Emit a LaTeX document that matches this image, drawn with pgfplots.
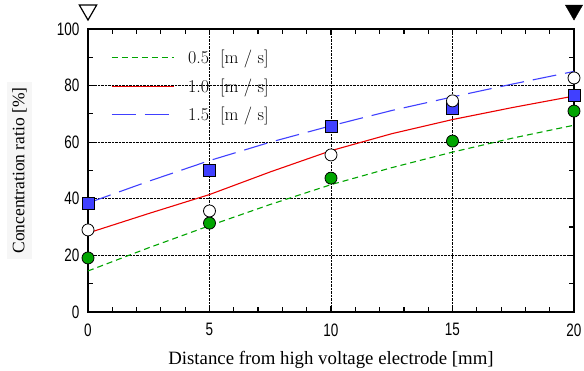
\documentclass[border=0pt]{standalone}
\usepackage{pgfplots}
\pgfplotsset{compat=1.18}
\usepackage{fontspec}
\setmainfont{Liberation Serif}
\newfontfamily\tickfont[FakeStretch=0.75]{Liberation Sans}
\newfontfamily\lmfont{Latin Modern Roman}
\definecolor{cgreen}{RGB}{0,165,0}
\definecolor{cred}{RGB}{235,0,0}
\definecolor{cblue}{RGB}{64,64,255}
\begin{document}
\begin{tikzpicture}
\begin{axis}[
  name=ax,
  scale only axis, width=486pt, height=283pt,
  xmin=0, xmax=20, ymin=0, ymax=100,
  xtick={0,5,10,15,20}, ytick={0,20,40,60,80,100},
  minor x tick num=4, minor ytick={10,30,50,70,90},
  tick align=inside, ticks=both,
  major tick length=6pt, minor tick length=5pt,
  tick style={black, line width=1.2pt},
  axis line style={line width=1.2pt},
  grid=major,
  major grid style={black, densely dotted, line width=0.9pt},
  clip=false,
  ticklabel style={font=\tickfont\fontsize{18}{20}\selectfont},
  /pgf/number format/assume math mode=true,
  xticklabel style={yshift=-8pt},
  yticklabel style={xshift=-5pt},
  xlabel={Distance from high voltage electrode [mm]},
  xlabel style={font=\fontsize{18.8}{21}\selectfont, yshift=-8pt},
  ylabel={Concentration ratio [\%]},
  ylabel style={font=\fontsize{17.5}{19}\selectfont, fill=gray!7, inner sep=5pt,
    at={(axis description cs:-0.141,0.5)}, anchor=center},
  legend style={at={(axis description cs:0.041,0.94)}, anchor=north west, draw=none, fill=none,
    font=\lmfont\fontsize{18}{21}\selectfont, row sep=9.5pt,
    nodes={inner xsep=14pt}},
  legend cell align=left,
  legend image code/.code={\draw[#1] (0pt,0pt) -- (62pt,0pt);},
]
% fitted lines
\addplot[cgreen, dash pattern=on 6pt off 4pt, line width=1.1pt] coordinates {(0,14.5) (2.5,22.7) (5,30.5) (7.5,38) (10,45) (12.5,51) (15,56.5) (17.5,61.5) (20,66)};
\addlegendentry{0.5\ \ [m\ /\ s]}
\addplot[cred, line width=1.1pt] coordinates {(0,27.9) (2.5,34.8) (5,41.5) (7.5,49.5) (10,57) (12.5,63) (15,68) (17.5,72.3) (20,76.3)};
\addlegendentry{1.0\ \ [m\ /\ s]}
\addplot[cblue, dash pattern=on 24pt off 9pt, line width=1.1pt] coordinates {(0,38.5) (2.5,46.2) (5,53.5) (7.5,60) (10,65.8) (12.5,71.2) (15,76) (17.5,80.6) (20,85)};
\addlegendentry{1.5\ \ [m\ /\ s]}
% data markers
\addplot[only marks, mark=square*, mark size=6pt, mark options={fill=cblue, draw=black, line width=0.8pt}, forget plot] coordinates {(0,38.2) (5,50.2) (10,65.7) (15,72) (20,76.7)};
\addplot[only marks, mark=*, mark size=6pt, mark options={fill=white, draw=black, line width=0.8pt}, forget plot] coordinates {(0,29) (5,35.7) (10,55.5) (15,74.6) (20,82.7)};
\addplot[only marks, mark=*, mark size=6pt, mark options={fill=cgreen, draw=black, line width=0.8pt}, forget plot] coordinates {(0,19.1) (5,31.4) (10,47.3) (15,60.4) (20,71)};
% electrode markers
\addplot[only marks, mark=triangle, mark size=10pt, mark options={rotate=180, draw=black, line width=1.2pt}, forget plot] coordinates {(0,106.7)};
\addplot[only marks, mark=triangle*, mark size=10pt, mark options={rotate=180, fill=black, draw=black}, forget plot] coordinates {(20,106.7)};
\end{axis}
\pgfresetboundingbox
\path ([shift={(-88pt,-59pt)}]ax.south west) rectangle ([shift={(10pt,29pt)}]ax.north east);
\end{tikzpicture}
\end{document}
